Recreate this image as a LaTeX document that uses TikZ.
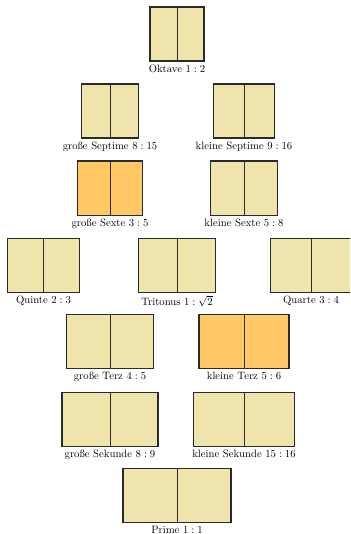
\documentclass[tikz,border=0pt]{standalone}
\definecolor{khaki}{HTML}{EFE4AB}
\definecolor{hilite}{HTML}{FEC864}
\definecolor{frame}{HTML}{2A2A2A}
\tikzset{
  ivbox/.style={draw=frame, line width=1pt, inner sep=0pt, minimum height=50.49pt},
  ivdiv/.style={draw=frame, line width=0.8pt},
  ivlabel/.style={anchor=north, inner sep=0pt, yshift=-2.6pt, font=\normalsize},
}
% #1 name, #2 divider x, #3 top y, #4 half width (px), #5 fill, #6 label
\newcommand{\ivl}[6]{%
  \node[ivbox, fill=#5, minimum width=#4*1.87pt, anchor=north] (#1) at (#2,#3) {};
  \draw[ivdiv] (#1.north) -- (#1.south);
  \node[ivlabel] (#1-l) at (#1.south) {#6};
}
\begin{document}
\begin{tikzpicture}[x=0.935pt,y=-0.935pt]
\useasboundingbox (0,0) rectangle (350,534);
\clip (0,0) rectangle (350,534);
\ivl{okt}{177}{6.5}{27}{khaki}{Oktave $1:2$}
\ivl{gsep}{110}{83.5}{28.8}{khaki}{große Septime $8:15$}
\ivl{ksep}{244}{83.5}{30.375}{khaki}{kleine Septime $9:16$}
\ivl{gsex}{110}{160.5}{32.4}{hilite}{große Sexte $3:5$}
\ivl{ksex}{244}{160.5}{33.75}{khaki}{kleine Sexte $5:8$}
\ivl{qui}{43.5}{237.5}{36}{khaki}{Quinte $2:3$}
\ivl{tri}{177}{237.5}{38.18}{khaki}{Tritonus $1:\sqrt{2}$}
\ivl{qua}{311}{237.5}{40.5}{khaki}{Quarte $3:4$}
\ivl{gterz}{110}{314}{43.2}{khaki}{große Terz $4:5$}
\ivl{kterz}{244}{314}{45}{hilite}{kleine Terz $5:6$}
\ivl{gsek}{110}{391.5}{48}{khaki}{große Sekunde $8:9$}
\ivl{ksek}{244}{391.5}{50.625}{khaki}{kleine Sekunde $15:16$}
\ivl{pri}{177}{468}{54}{khaki}{Prime $1:1$}
\end{tikzpicture}
\end{document}
